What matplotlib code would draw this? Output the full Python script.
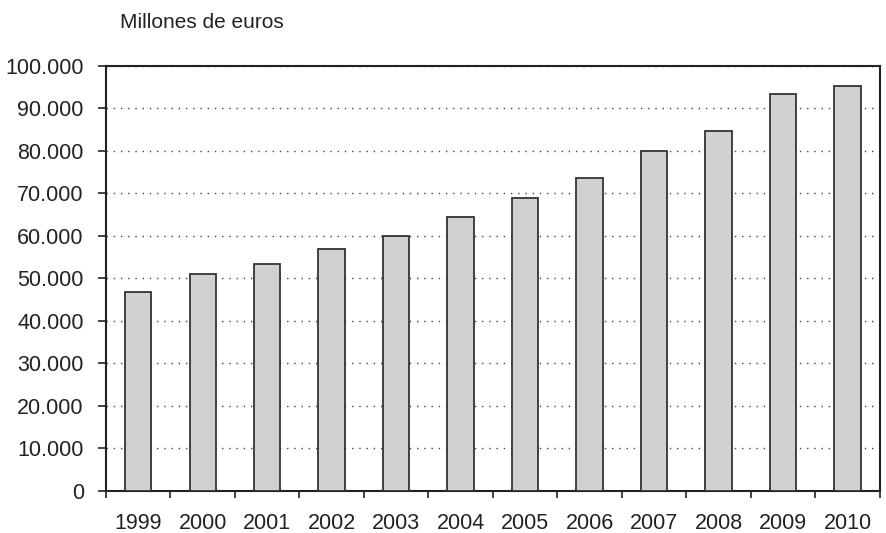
import numpy as np
import matplotlib.pyplot as plt
from matplotlib.ticker import FuncFormatter, MultipleLocator

plt.rcParams['font.family'] = ['Liberation Sans', 'DejaVu Sans']

# Data (millones de euros)
years = ['1999', '2000', '2001', '2002', '2003', '2004',
         '2005', '2006', '2007', '2008', '2009', '2010']
values = [46800, 51100, 53400, 56900, 60100, 64400,
          68900, 73700, 79900, 84700, 93400, 95400]

fig = plt.figure(figsize=(8.87, 5.33), dpi=100)
ax = fig.add_axes([0.1195, 0.0788, 0.8725, 0.7974])

x = np.arange(len(years))
ax.bar(x, values, width=0.41, color='#d1d1d3', edgecolor='#333333',
       linewidth=1.3, zorder=3)

ax.set_xlim(-0.5, len(years) - 0.5)
ax.set_ylim(0, 100000)

# y axis
ax.yaxis.set_major_locator(MultipleLocator(10000))
ax.yaxis.set_major_formatter(FuncFormatter(lambda v, p: f'{int(v):,}'.replace(',', '.')))
ax.tick_params(axis='y', direction='out', length=6, width=1.2, pad=10,
               labelsize=15.5, colors='#222222')
ax.grid(axis='y', linestyle=(0, (1, 4.2)), color='#444444', linewidth=1.0, zorder=1)

# x axis: labels at centres, ticks between categories
ax.set_xticks(x)
ax.set_xticklabels(years)
ax.set_xticks(np.arange(len(years) + 1) - 0.5, minor=True)
ax.tick_params(axis='x', which='major', length=0, pad=16, labelsize=15.5,
               colors='#222222')
ax.tick_params(axis='x', which='minor', direction='out', length=5, width=1.2,
               color='#222222')

for s in ax.spines.values():
    s.set_linewidth(1.5)
    s.set_color('#222222')

fig.text(0.135, 0.958, 'Millones de euros', fontsize=15, color='#222222',
         ha='left', va='center')

fig.savefig('out.png', dpi=100)
